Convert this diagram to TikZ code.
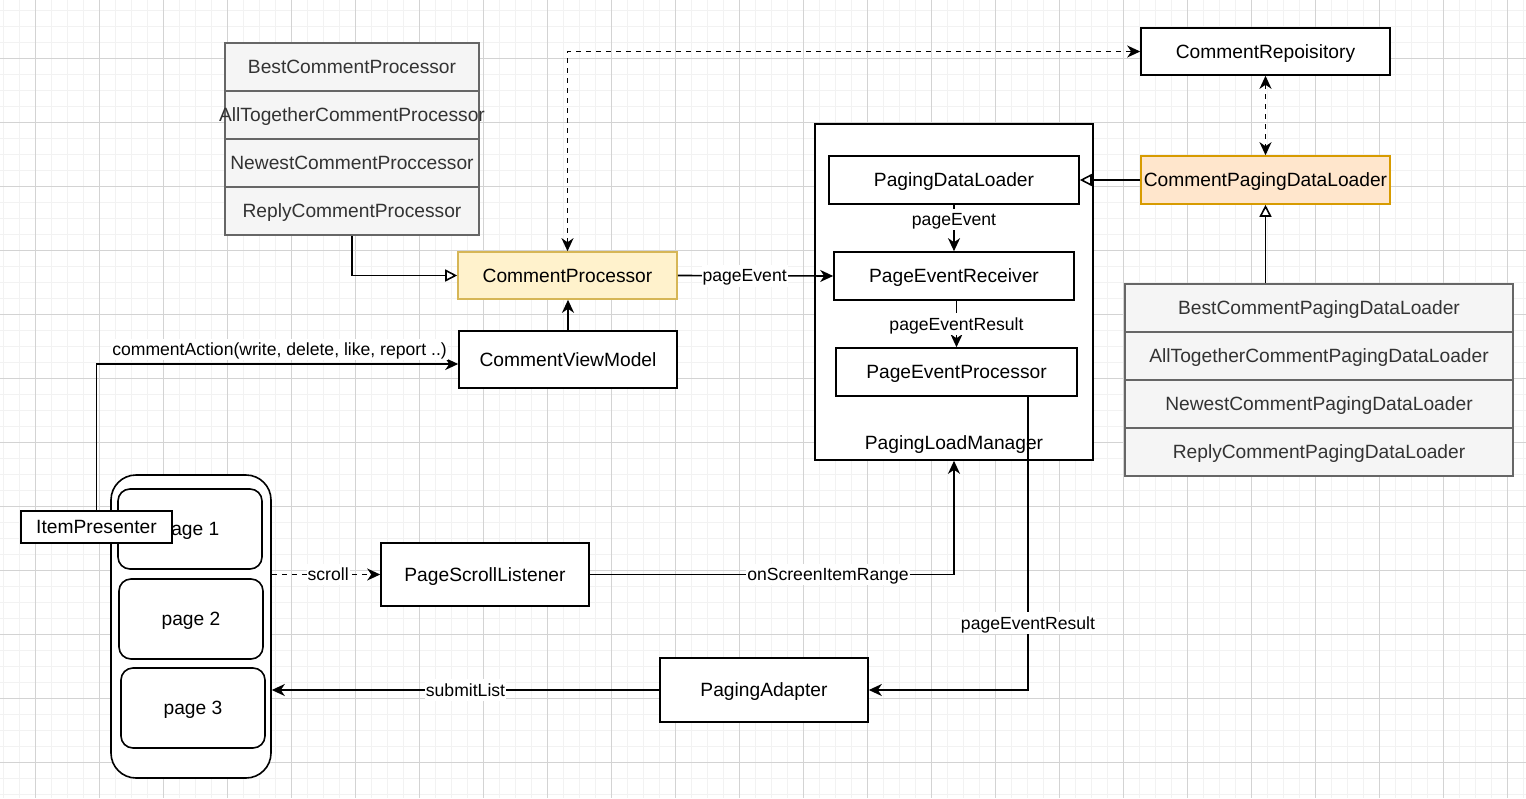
\documentclass[tikz,border=0pt]{standalone}
\usepackage{fontspec}
\setmainfont{Liberation Sans}
\usetikzlibrary{arrows.meta, positioning}
\definecolor{gridminor}{HTML}{F2F2F2}
\definecolor{gridmajor}{HTML}{D3D3D3}
\definecolor{subfill}{HTML}{F5F5F5}
\definecolor{subline}{HTML}{666666}
\definecolor{subtext}{HTML}{333333}
\definecolor{yelfill}{HTML}{FFF2CC}
\definecolor{yelline}{HTML}{D6B656}
\definecolor{orgfill}{HTML}{FFE6CC}
\definecolor{orgline}{HTML}{D79B00}
\newcommand{\boxfont}{\fontsize{19.2}{23}\selectfont}
\newcommand{\edgefont}{\fontsize{17.6}{21}\selectfont}

\tikzset{
  arr/.tip={Stealth[length=13pt,width=12pt,inset=4pt]},
  cls/.style={draw, line width=1.6pt, fill=white, inner sep=0pt, font=\boxfont,
    text height=17.4pt, text depth=4.1pt},
  subcls/.style={cls, draw=subline, fill=subfill, text=subtext, minimum height=48pt},
  pagebox/.style={cls, rounded corners=12pt, minimum width=144pt, minimum height=80pt},
  lbl/.style={fill=white, inner sep=1pt, font=\edgefont, text height=15.9pt, text depth=3.7pt},
  conn/.style={line width=1.6pt, -arr},
  dconn/.style={line width=1.6pt, dash pattern=on 5pt off 5pt},
  inh/.style={line width=1.6pt, -{Triangle[open,length=12pt,width=12pt,fill=white]}}
}

\begin{document}
\begin{tikzpicture}[x=1pt, y=-1pt]
\useasboundingbox (0,0) rectangle (1526,798);
\fill[white] (0,0) rectangle (1526,798);

% grid
\foreach \x in {3.3,19.3,...,1526} \draw[gridminor, line width=1pt] (\x,0) -- (\x,798);
\foreach \y in {10.3,26.3,...,798} \draw[gridminor, line width=1pt] (0,\y) -- (1526,\y);
\foreach \x in {35.3,99.3,...,1526} \draw[gridmajor, line width=1pt] (\x,0) -- (\x,798);
\foreach \y in {58.3,122.3,...,798} \draw[gridmajor, line width=1pt] (0,\y) -- (1526,\y);

% processors
\node[subcls, minimum width=254pt] (bcp) at (352,67) {BestCommentProcessor};
\node[subcls, minimum width=254pt] (acp) at (352,115) {\makebox[0pt]{AllTogetherCommentProcessor}};
\node[subcls, minimum width=254pt] (ncp) at (352,163) {NewestCommentProccessor};
\node[subcls, minimum width=254pt] (rcp) at (352,211) {ReplyCommentProcessor};
\node[cls, draw=yelline, fill=yelfill, minimum width=219pt, minimum height=47pt] (cp) at (567.5,275.5) {CommentProcessor};
\node[cls, minimum width=218pt, minimum height=57pt] (cvm) at (568,359.5) {CommentViewModel};

% repository and loaders
\node[cls, minimum width=249pt, minimum height=47pt] (repo) at (1265.5,51.5) {CommentRepoisitory};
\node[cls, draw=orgline, fill=orgfill, minimum width=249pt, minimum height=48pt] (cpdl) at (1265.5,180) {CommentPagingDataLoader};
\node[subcls, minimum width=388pt] (bpdl) at (1319,308) {BestCommentPagingDataLoader};
\node[subcls, minimum width=388pt] (apdl) at (1319,356) {AllTogetherCommentPagingDataLoader};
\node[subcls, minimum width=388pt] (npdl) at (1319,404) {NewestCommentPagingDataLoader};
\node[subcls, minimum width=388pt] (rpdl) at (1319,452) {ReplyCommentPagingDataLoader};

% paging load manager
\node[cls, minimum width=278pt, minimum height=336pt] (plm) at (954,292) {};
\node[font=\boxfont, inner sep=0pt, text height=17.4pt, text depth=4.1pt] (plmlabel) at (954,443) {PagingLoadManager};
\node[cls, minimum width=250pt, minimum height=48pt] (pdl) at (954,180) {PagingDataLoader};
\node[cls, minimum width=240pt, minimum height=48pt] (per) at (954,276) {PageEventReceiver};
\node[cls, minimum width=241pt, minimum height=48pt] (pep) at (956.5,372) {PageEventProcessor};

% screen
\node[cls, rounded corners=25pt, minimum width=160pt, minimum height=303pt] (phone) at (191,626.5) {};
\node[pagebox] (page1) at (190,529) {page 1};
\node[pagebox] (page2) at (191,619) {page 2};
\node[pagebox] (page3) at (193,708) {page 3};
\node[cls, minimum width=151pt, minimum height=32pt] (item) at (96.5,527) {ItemPresenter};
\node[cls, minimum width=208pt, minimum height=63pt] (psl) at (485,574.5) {PageScrollListener};
\node[cls, minimum width=208pt, minimum height=64pt] (pa) at (764,690) {PagingAdapter};

% connectors
\draw[dconn, arr-arr] (cp.north) |- (repo.west);
\draw[dconn, arr-arr] (repo.south) -- (cpdl.north);
\draw[inh] (cpdl.west) -- (pdl.east);
\draw[inh] (cpdl.south |- bpdl.north) -- (cpdl.south);
\draw[inh] (rcp.south) |- (cp.west);
\draw[conn] (cvm.north) -- (cvm.north |- cp.south);
\draw[conn] (cp.east) -- node[lbl, pos=0.43] {pageEvent} (per.west);
\draw[conn] (pdl.south) -- node[lbl, pos=0.32] {pageEvent} (per.north);
\draw[conn] (pep.north |- per.south) -- node[lbl] {pageEventResult} (pep.north);
\draw[conn] ([xshift=71.5pt]pep.south) |- node[lbl, pos=0.386] {pageEventResult} (pa.east);
\draw[conn] (psl.east) -| node[lbl, pos=0.327] {onScreenItemRange} (plm.south);
\draw[dconn, -arr] (phone.east |- psl.west) -- node[lbl, pos=0.52] {scroll} (psl.west);
\draw[conn] (pa.west) -- node[lbl] {submitList} (pa.west -| phone.east);
\draw[conn] (item.north) |- node[lbl, above=3pt, pos=0.753] {commentAction(write, delete, like, report ..)} ([yshift=-4.5pt]cvm.west);
\end{tikzpicture}
\end{document}
